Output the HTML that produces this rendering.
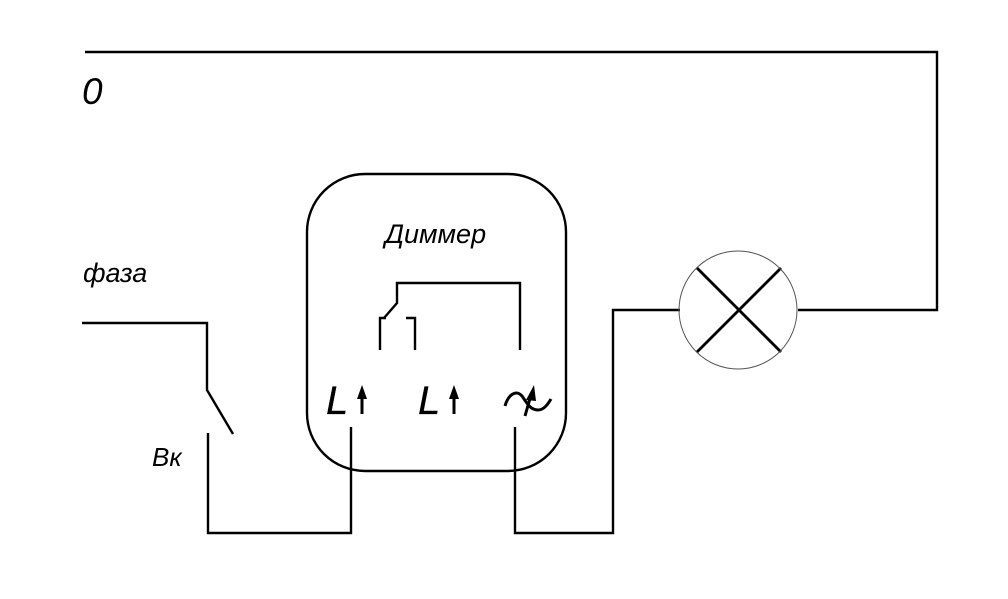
<!DOCTYPE html>
<html><head><meta charset="utf-8"><style>
html,body{margin:0;padding:0;background:#fff;}
svg{display:block;}
text{font-family:"Liberation Sans",sans-serif;font-style:italic;fill:#000;}
</style></head><body>
<svg width="1008" height="599" viewBox="0 0 1008 599" xmlns="http://www.w3.org/2000/svg">
<g fill="none" stroke="#000" stroke-width="2.4">
<polyline points="85,52 937,52 937,310 798,310"/>
<polyline points="82,323 207,323 207,390 233,434"/>
<polyline points="208,433 208,533 351,533 351,427"/>
<polyline points="515,427 515,533 613,533 613,310 680,310"/>
<rect x="307" y="174" width="259" height="297" rx="58" ry="58"/>
<polyline points="520,350 520,283 397,283 397,303 384,318"/>
<polyline points="386,318 380,318 380,350"/>
<polyline points="406,318 415,318 415,350"/>
<line x1="697" y1="268" x2="781" y2="352" stroke-width="2.8"/>
<line x1="781" y1="268" x2="697" y2="352" stroke-width="2.8"/>
<line x1="362" y1="396" x2="362" y2="414" stroke-width="3"/>
<line x1="454" y1="396" x2="454" y2="414" stroke-width="3"/>
<path d="M505,406 C508,395 516,389 522,396 C527,403 530,410 538,410 C544,410 548,404 551,399" stroke-width="3"/>
<line x1="525" y1="416" x2="531" y2="395" stroke-width="3"/>
</g>
<circle cx="738" cy="310" r="59" fill="none" stroke="#555" stroke-width="1"/>
<polygon points="362,385 357,399 367,399" fill="#000"/>
<polygon points="454,385 449,399 459,399" fill="#000"/>
<polygon points="534,385 526,400 536,401" fill="#000"/>
<text x="82" y="104" font-size="37">0</text>
<text x="385" y="243" font-size="27">Диммер</text>
<text x="83" y="282" font-size="27">фаза</text>
<text x="152" y="466" font-size="26">Вк</text>
<text x="326" y="414" font-size="40" stroke="#000" stroke-width="0.3">L</text>
<text x="418" y="414" font-size="40" stroke="#000" stroke-width="0.3">L</text>
</svg>
</body></html>
